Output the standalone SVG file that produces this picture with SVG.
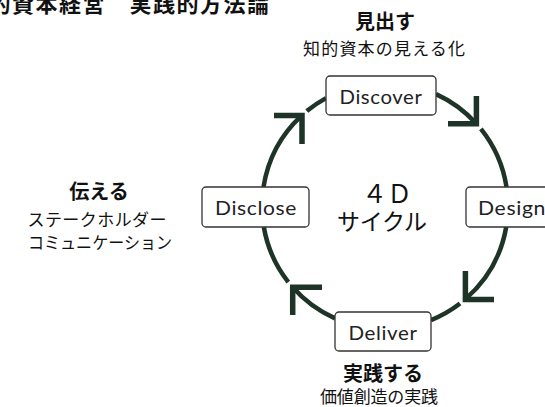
<svg xmlns="http://www.w3.org/2000/svg" width="545" height="407" viewBox="0 0 545 407">
<style>
.jp{font-family:"Noto Sans CJK JP","Noto Sans",sans-serif;fill:#111;}
.b{font-weight:700;font-size:20px;}
.s{font-size:17px;}
.box{fill:#fff;stroke:#333;stroke-width:1.3;}
.lbl{font-family:"Lato","Noto Sans",sans-serif;font-size:20px;fill:#222;letter-spacing:0.6px;}
.arc{fill:none;stroke:#1d3427;stroke-width:4.5;}
.head{fill:none;stroke:#1d3427;stroke-width:5.5;stroke-linejoin:miter;stroke-linecap:butt;}
</style>
<rect width="545" height="407" fill="#fff"/>
<text class="jp" x="-35" y="12" font-size="22" font-weight="700" textLength="304" lengthAdjust="spacing">知的資本経営　実践的方法論</text>
<g id="connectors">
<path class="arc" d="M263.5 187 A123 123 0 0 1 301.6 115.6"/>
<path class="arc" d="M306.8 111.1 A123 123 0 0 1 326 98.1"/>
<path class="arc" d="M436 94.1 A123 123 0 0 1 476.4 123.7"/>
<path class="arc" d="M480.9 128.9 A123 123 0 0 1 506.5 187"/>
<path class="arc" d="M506.2 227 A123 123 0 0 1 465.4 299.1"/>
<path class="arc" d="M460 303.5 A123 123 0 0 1 431 320.1"/>
<path class="arc" d="M335 318.4 A123 123 0 0 1 292.7 287.3"/>
<path class="arc" d="M288.3 282.1 A123 123 0 0 1 263.8 227"/>
<path class="head" d="M274 115.6 H302 V144"/>
<path class="head" d="M448 123.7 H476.4 V96"/>
<path class="head" d="M465.4 271 V299.5 H494"/>
<path class="head" d="M322 287.3 H292.7 V315"/>
</g>
<g id="discover">
<rect class="box" x="326" y="76" width="110" height="39" rx="4"/>
<text class="lbl" x="381" y="104" text-anchor="middle" textLength="83" lengthAdjust="spacingAndGlyphs">Discover</text>
<text class="jp b" x="385" y="29" text-anchor="middle">見出す</text>
<text class="jp s" x="384" y="55" text-anchor="middle" textLength="162" lengthAdjust="spacing">知的資本の見える化</text>
</g>
<g id="design">
<rect class="box" x="466" y="187" width="110" height="40" rx="4"/>
<text class="lbl" x="478" y="215" textLength="68" lengthAdjust="spacingAndGlyphs">Design</text>
</g>
<g id="deliver">
<rect class="box" x="335" y="312" width="96" height="39" rx="4"/>
<text class="lbl" x="383" y="340" text-anchor="middle" textLength="69" lengthAdjust="spacingAndGlyphs">Deliver</text>
<text class="jp b" x="383" y="381" text-anchor="middle">実践する</text>
<text class="jp s" x="379" y="403" text-anchor="middle" textLength="118" lengthAdjust="spacing">価値創造の実践</text>
</g>
<g id="disclose">
<rect class="box" x="202" y="187" width="107" height="40" rx="4"/>
<text class="lbl" x="256" y="215" text-anchor="middle" textLength="82" lengthAdjust="spacingAndGlyphs">Disclose</text>
<text class="jp b" x="99" y="199" text-anchor="middle">伝える</text>
<text class="jp s" x="97" y="226" text-anchor="middle" textLength="139" lengthAdjust="spacing">ステークホルダー</text>
<text class="jp s" x="100" y="249" text-anchor="middle" textLength="144" lengthAdjust="spacingAndGlyphs">コミュニケーション</text>
</g>
<g id="center">
<text class="jp" x="387" y="203" text-anchor="middle" font-size="25">４Ｄ</text>
<text class="jp" x="382" y="230" text-anchor="middle" font-size="23" textLength="90" lengthAdjust="spacing">サイクル</text>
</g>
</svg>
